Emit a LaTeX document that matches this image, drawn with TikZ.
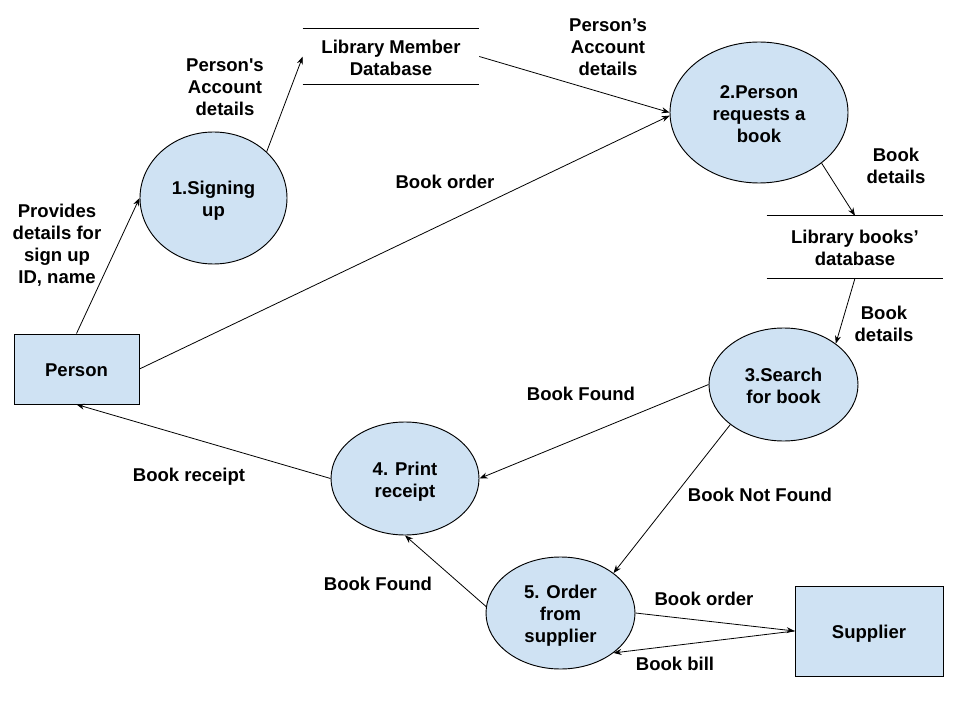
\documentclass[tikz,border=0pt]{standalone}
\usepackage{fontspec}
\setmainfont{Liberation Sans}[Ligatures=TeXOff]
\usetikzlibrary{shapes.geometric,arrows.meta}
\definecolor{procfill}{HTML}{CFE2F3}
\newcommand{\mlines}[1]{\raisebox{-2.6pt}[\height][\depth]{\begin{tabular}{@{}c@{}}#1\end{tabular}}}
\begin{document}
\begin{tikzpicture}[x=0.75pt,y=-0.75pt,
  every node/.style={font=\fontsize{13.9}{16.5}\selectfont\bfseries, inner sep=0pt},
  proc/.style={ellipse, draw=black, line width=0.7pt, fill=procfill},
  ent/.style={rectangle, draw=black, line width=0.7pt, fill=procfill},
  store/.style={rectangle},
  flow/.style={draw=black, line width=0.6pt, -{Stealth[length=6pt,width=4.5pt]}},
  lbl/.style={}
]
\useasboundingbox (0,0) rectangle (960,720);
\fill[white] (0,0) rectangle (960,720);

% processes
\node[proc, minimum width=110.25pt, minimum height=99pt] (e1) at (213.5,198) {\mlines{1.Signing\\up}};
\node[proc, minimum width=133.5pt, minimum height=105.75pt] (e2) at (759,112.5) {\mlines{2.Person\\requests a\\book}};
\node[proc, minimum width=111.75pt, minimum height=84.75pt] (e3) at (783.5,384.5) {\mlines{3.Search\\for book}};
\node[proc, minimum width=111pt, minimum height=84.75pt] (e4) at (405,478.5) {\mlines{4. Print\\receipt}};
\node[proc, minimum width=111.75pt, minimum height=84pt] (e5) at (560.5,613) {\mlines{5. Order\\from\\supplier}};

% entities
\node[ent, minimum width=93.75pt, minimum height=52.5pt] (person) at (76.5,369) {\mlines{Person}};
\node[ent, minimum width=111pt, minimum height=67.5pt] (supplier) at (869,631) {\mlines{Supplier}};

% data stores
\node[store, minimum width=132pt, minimum height=41.25pt] (lmd) at (391,56.5) {\mlines{Library Member\\Database}};
\draw[line width=0.7pt] (lmd.north west) -- (lmd.north east);
\draw[line width=0.7pt] (lmd.south west) -- (lmd.south east);
\node[store, minimum width=132pt, minimum height=46.5pt] (lbd) at (855,247) {\mlines{Library books’\\database}};
\draw[line width=0.7pt] (lbd.north west) -- (lbd.north east);
\draw[line width=0.7pt] (lbd.south west) -- (lbd.south east);

% flows
\draw[flow] (person.north) -- (e1.west);
\draw[flow] (e1.41) -- (lmd.west);
\draw[flow] (lmd.east) -- (e2.west);
\draw[flow] (person.east) -- (e2.182);
\draw[flow] (e2.-39) -- (lbd.north);
\draw[flow] (lbd.south) -- (e3.38);
\draw[flow] (e3.west) -- (e4.east);
\draw[flow] (e3.217) -- (e5.37);
\draw[flow] (e4.west) -- (person.south);
\draw[flow] (e5.175) -- (e4.south);
\draw[flow] (e5.east) -- (supplier.west);
\draw[flow] (supplier.west) -- (e5.-37);

% labels
\node[lbl] (l1) at (225,86) {\mlines{Person's\\Account\\details}};
\node[lbl] (l2) at (57,243) {\mlines{Provides\\details for\\sign up\\ID, name}};
\node[lbl] (l3) at (445,181) {\mlines{Book order}};
\node[lbl] (l4) at (608,46) {\mlines{Person’s\\Account\\details}};
\node[lbl] (l5) at (896,165) {\mlines{Book\\details}};
\node[lbl] (l6) at (884,322.5) {\mlines{Book\\details}};
\node[lbl] (l7) at (581,393) {\mlines{Book Found}};
\node[lbl] (l8) at (760,494) {\mlines{Book Not Found}};
\node[lbl] (l9) at (704,598) {\mlines{Book order}};
\node[lbl] (l10) at (675,663) {\mlines{Book bill}};
\node[lbl] (l11) at (189,474) {\mlines{Book receipt}};
\node[lbl] (l12) at (378,583) {\mlines{Book Found}};
\end{tikzpicture}
\end{document}
